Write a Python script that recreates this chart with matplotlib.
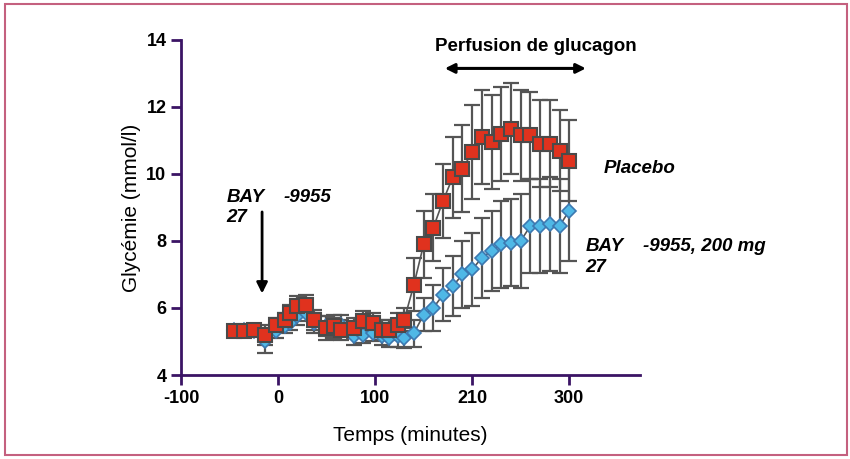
import matplotlib.pyplot as plt
from matplotlib.patches import Rectangle

plt.rcParams['font.family'] = ['Liberation Sans', 'DejaVu Sans']

# Time points (minutes) and mean glycaemia (mmol/l)
time_min = [-45, -35, -25, -13, -2, 7, 12, 19, 29, 37, 49, 58, 65, 78, 88, 98, 107, 114, 124, 130,
            140, 150, 160, 170, 180, 190, 200, 210, 220, 230, 240, 250, 260, 270, 280, 290, 300]

placebo = [5.3, 5.3, 5.35, 5.2, 5.5, 5.65, 5.85, 6.05, 6.1, 5.65, 5.4, 5.45, 5.35, 5.4, 5.6, 5.55, 5.35, 5.35, 5.5, 5.65,
           6.7, 7.9, 8.4, 9.2, 9.9, 10.15, 10.65, 11.1, 10.95, 11.2, 11.35, 11.15, 11.15, 10.9, 10.9, 10.7, 10.4]
placebo_err = [0.15, 0.15, 0.15, 0.3, 0.2, 0.2, 0.25, 0.3, 0.3, 0.3, 0.35, 0.35, 0.3, 0.3, 0.3, 0.3, 0.3, 0.3, 0.35, 0.35,
               0.8, 1.0, 1.0, 1.1, 1.2, 1.3, 1.4, 1.4, 1.4, 1.4, 1.35, 1.35, 1.3, 1.3, 1.3, 1.2, 1.2]

bay = [5.35, 5.35, 5.3, 5.0, 5.3, 5.45, 5.55, 5.75, 5.85, 5.55, 5.45, 5.4, 5.5, 5.15, 5.2, 5.25, 5.15, 5.1, 5.15, 5.1,
       5.25, 5.8, 6.0, 6.4, 6.65, 7.0, 7.15, 7.5, 7.7, 7.9, 7.95, 8.0, 8.45, 8.45, 8.5, 8.45, 8.9]
bay_err = [0.1, 0.1, 0.15, 0.35, 0.2, 0.2, 0.2, 0.25, 0.25, 0.3, 0.3, 0.3, 0.3, 0.25, 0.25, 0.25, 0.25, 0.25, 0.3, 0.3,
           0.4, 0.5, 0.7, 0.8, 0.9, 1.0, 1.1, 1.2, 1.2, 1.3, 1.3, 1.4, 1.4, 1.4, 1.4, 1.4, 1.5]

x_ticks = [-100, 0, 100, 200, 300]
x_tick_labels = ['-100', '0', '100', '210', '300']
y_ticks = [4, 6, 8, 10, 12, 14]

axis_color = '#3b1465'
bar_color = '#555555'
note_size = 13.5

fig = plt.figure(figsize=(8.5, 4.59), dpi=100)
ax = fig.add_axes([0.213, 0.183, 0.54, 0.73])

# error bars first so markers sit on top
ax.errorbar(time_min, bay, yerr=bay_err, fmt='none', ecolor=bar_color, elinewidth=1.6,
            capsize=6, capthick=1.6, zorder=2)
ax.errorbar(time_min, placebo, yerr=placebo_err, fmt='none', ecolor=bar_color, elinewidth=1.6,
            capsize=6, capthick=1.6, zorder=2)

ax.plot(time_min, bay, color='#555555', lw=1.2, zorder=3)
ax.plot(time_min, bay, linestyle='none', marker='D', markersize=7.5,
        markerfacecolor='#4fb8e6', markeredgecolor='#3c78b0', markeredgewidth=1.2, zorder=4)
ax.plot(time_min, placebo, color='#555555', lw=1.2, zorder=5)
ax.plot(time_min, placebo, linestyle='none', marker='s', markersize=10,
        markerfacecolor='#e0321e', markeredgecolor='#4a4a4a', markeredgewidth=1.5, zorder=6)

ax.set_xlim(-100, 373)
ax.set_ylim(4, 14)
ax.set_xticks(x_ticks)
ax.set_xticklabels(x_tick_labels)
ax.set_yticks(y_ticks)

for side in ['top', 'right']:
    ax.spines[side].set_visible(False)
for side in ['left', 'bottom']:
    ax.spines[side].set_color(axis_color)
    ax.spines[side].set_linewidth(2)
ax.tick_params(axis='both', colors=axis_color, width=2, length=7, labelcolor='black',
               labelsize=13)
for lbl in ax.get_xticklabels() + ax.get_yticklabels():
    lbl.set_fontweight('bold')

ax.set_xlabel('Temps (minutes)', fontsize=15, labelpad=14)
ax.set_ylabel('Glycémie (mmol/l)', fontsize=15, labelpad=4)

# glucagon infusion arrow
ax.annotate('', xy=(169, 13.15), xytext=(320, 13.15),
            arrowprops=dict(arrowstyle='<|-|>', color='black', lw=2.2, mutation_scale=14),
            annotation_clip=False)
ax.text(266, 13.8, 'Perfusion de glucagon', ha='center', va='center', fontsize=note_size,
        fontweight='bold')

# drug administration arrow
ax.annotate('', xy=(-16.5, 6.35), xytext=(-16.5, 8.95),
            arrowprops=dict(arrowstyle='-|>', color='black', lw=2, mutation_scale=16))
ax.text(-53, 9.3, 'BAY', fontsize=note_size, fontweight='bold', style='italic', va='center')
ax.text(6, 9.3, '-9955', fontsize=note_size, fontweight='bold', style='italic', va='center')
ax.text(-53, 8.7, '27', fontsize=note_size, fontweight='bold', style='italic', va='center')

# series labels
ax.text(336, 10.15, 'Placebo', fontsize=note_size, fontweight='bold', style='italic', va='center',
        clip_on=False)
ax.text(317, 7.85, 'BAY', fontsize=note_size, fontweight='bold', style='italic', va='center',
        clip_on=False)
ax.text(376, 7.85, '-9955, 200 mg', fontsize=note_size, fontweight='bold', style='italic',
        va='center', clip_on=False)
ax.text(317, 7.22, '27', fontsize=note_size, fontweight='bold', style='italic', va='center',
        clip_on=False)

# pink frame around the figure
fig.patches.append(Rectangle((5 / 850, 4 / 459), 842 / 850, 451 / 459, transform=fig.transFigure,
                             fill=False, edgecolor='#c4607f', linewidth=1.5))

fig.savefig('out.png', dpi=100)
